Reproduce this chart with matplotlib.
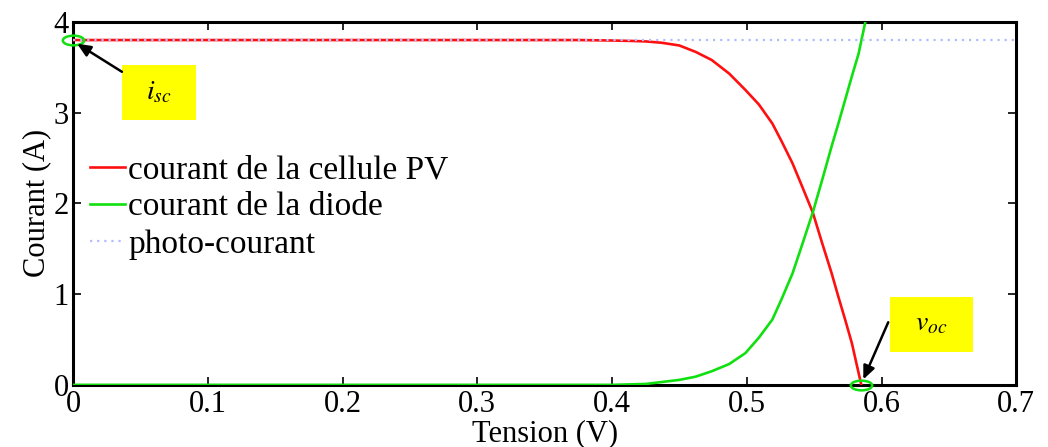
import matplotlib

matplotlib.use("Agg")
import matplotlib.pyplot as plt
from matplotlib.markers import MarkerStyle
from matplotlib.patches import Rectangle
from matplotlib.transforms import Affine2D

# courant de la cellule PV
v_pv = [0.0, 0.1, 0.2, 0.3, 0.35, 0.376, 0.400, 0.415, 0.425, 0.437, 0.450, 0.462, 0.474,
        0.487, 0.499, 0.509, 0.519, 0.526, 0.534, 0.541, 0.549, 0.556, 0.563,
        0.568, 0.573, 0.578, 0.585]
i_pv = [3.80, 3.80, 3.80, 3.80, 3.80, 3.80, 3.795, 3.79, 3.785, 3.77, 3.74, 3.67, 3.58,
        3.43, 3.25, 3.09, 2.88, 2.68, 2.44, 2.19, 1.90, 1.56, 1.23,
        0.97, 0.72, 0.46, 0.0]

# courant de la diode
v_d = [0.0, 0.1, 0.2, 0.3, 0.376, 0.400, 0.425, 0.450, 0.462, 0.474, 0.487, 0.499,
       0.509, 0.519, 0.526, 0.534, 0.541, 0.549, 0.556, 0.563, 0.568, 0.573,
       0.578, 0.583, 0.588]
i_d = [0.0, 0.0, 0.0, 0.0, 0.0, 0.0, 0.01, 0.055, 0.09, 0.15, 0.23, 0.35,
       0.52, 0.72, 0.95, 1.23, 1.54, 1.90, 2.26, 2.63, 2.88, 3.14,
       3.40, 3.65, 4.0]

# photo-courant
v_ph = [0.0, 0.7]
i_ph = [3.8, 3.8]

isc = (0.0, 3.8)
voc = (0.585, 0.0)

plt.rcParams["font.family"] = ["Liberation Serif", "DejaVu Serif"]
plt.rcParams["mathtext.fontset"] = "stix"

fig = plt.figure(figsize=(10.48, 4.47), dpi=100)
ax = fig.add_axes([0.0697, 0.139, 0.9, 0.812])

ax.plot(v_pv, i_pv, color="#ff1010", lw=1.9, label="courant de la cellule PV", zorder=3)
ax.plot(v_d, i_d, color="#10e010", lw=1.9, label="courant de la diode", zorder=3)
ax.plot(v_ph, i_ph, color="#b4bcff", lw=1.6, ls=(0, (1, 2.2)), label="photo-courant", zorder=4)

ell = MarkerStyle("o", transform=Affine2D().scale(2.2, 1.0))
ax.plot([isc[0], voc[0]], [isc[1], voc[1]], ls="none", marker=ell, ms=7,
        mfc="none", mec="#10e010", mew=1.8, zorder=5, clip_on=False)

# yellow label boxes
ax.add_patch(Rectangle((0.0363, 2.92), 0.0548, 0.606, facecolor="yellow",
                       edgecolor="none", zorder=6))
ax.text(0.0637, 3.22, r"$i_{sc}$", fontsize=20, ha="center", va="center", zorder=7)
ax.annotate("", xy=(0.003, 3.76), xytext=(0.0363, 3.45),
            arrowprops=dict(arrowstyle="-|>,head_length=0.8,head_width=0.35",
                            color="black", lw=1.8, shrinkA=0, shrinkB=0), zorder=7)

ax.add_patch(Rectangle((0.606, 0.364), 0.0622, 0.606, facecolor="yellow",
                       edgecolor="none", zorder=6))
ax.text(0.637, 0.667, r"$v_{oc}$", fontsize=20, ha="center", va="center", zorder=7)
ax.annotate("", xy=(0.5865, 0.06), xytext=(0.605, 0.69),
            arrowprops=dict(arrowstyle="-|>,head_length=0.8,head_width=0.35",
                            color="black", lw=1.8, shrinkA=0, shrinkB=0), zorder=7)

ax.set_xlim(0, 0.7)
ax.set_ylim(0, 4)
ax.set_xticks([0, 0.1, 0.2, 0.3, 0.4, 0.5, 0.6, 0.7])
ax.set_xticklabels(["0", "0.1", "0.2", "0.3", "0.4", "0.5", "0.6", "0.7"])
ax.set_yticks([0, 1, 2, 3, 4])
ax.tick_params(direction="in", length=6, width=1.2, labelsize=22, top=True, right=True)
ax.tick_params(axis="x", pad=4)
ax.tick_params(axis="y", pad=3)
for s in ax.spines.values():
    s.set_linewidth(2.2)
ax.set_xlabel("Tension (V)", fontsize=22, labelpad=0)
ax.set_ylabel("Courant (A)", fontsize=22, labelpad=2)

ax.legend(loc="upper left", bbox_to_anchor=(0.0, 0.68), frameon=False, fontsize=24,
          handlelength=1.05, handletextpad=0.1, labelspacing=0.2, borderaxespad=0.3,
          borderpad=0.2)

fig.savefig("out.png", dpi=100)
